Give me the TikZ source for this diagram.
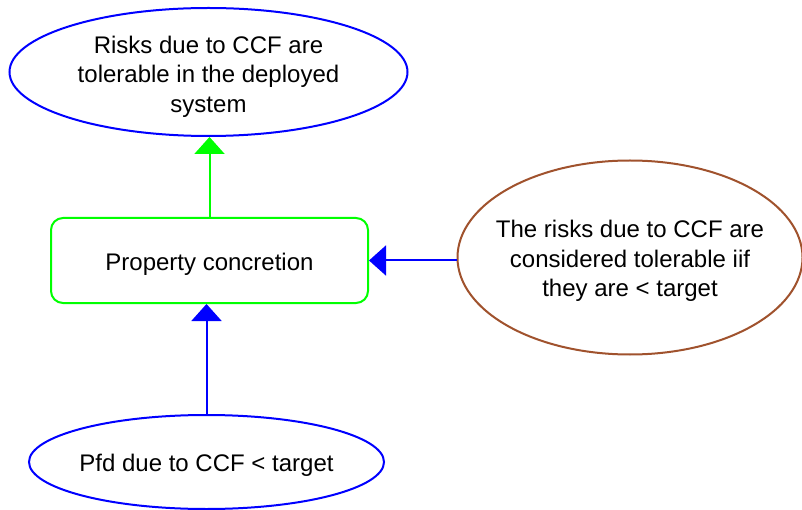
\documentclass[tikz,border=0pt]{standalone}
\usepackage{fontspec}
\setmainfont{Liberation Sans}
\usetikzlibrary{shapes.geometric,arrows.meta}
\definecolor{goalblue}{RGB}{0,0,255}
\definecolor{stratgreen}{RGB}{0,255,0}
\definecolor{ctxbrown}{RGB}{160,82,45}
\begin{document}
\begin{tikzpicture}[x=1pt,y=-1pt,
  caption/.style={font=\fontsize{24}{29.5}\selectfont, align=center, text=black, inner sep=0pt, yshift=-3.5pt},
  goal/.style={ellipse, draw=goalblue, line width=2pt, inner sep=0pt},
  context/.style={ellipse, draw=ctxbrown, line width=2pt, inner sep=0pt},
  strategy/.style={rectangle, rounded corners=12pt, draw=stratgreen, line width=2pt, inner sep=0pt},
  support/.style={line width=2pt, -{Triangle[length=17pt,width=30pt]}}
]
\useasboundingbox (0,0) rectangle (802,510);
\fill[white] (0,0) rectangle (802,510);

% goal, strategy, context and solution shapes, each with its centred caption
\node[goal, minimum width=398pt, minimum height=128pt,
  label={[caption, yshift=-1pt]center:{Risks due to CCF are\\tolerable in the deployed\\system}}]
  (top) at (208.5,72) {};
\node[strategy, minimum width=317pt, minimum height=85pt,
  label={[caption]center:{Property concretion}}]
  (strat) at (209.5,260.5) {};
\node[context, minimum width=345pt, minimum height=194pt,
  label={[caption]center:{The risks due to CCF are\\considered tolerable iif\\they are < target}}]
  (ctx) at (630,257.5) {};
\node[goal, minimum width=355pt, minimum height=94pt,
  label={[caption]center:{Pfd due to CCF < target}}]
  (sol) at (206.5,462) {};

% support links
\draw[support, draw=stratgreen, fill=stratgreen] (strat.north) -- (strat.north |- top.south);
\draw[support, draw=goalblue, fill=goalblue] (ctx.west |- strat.east) -- (strat.east);
\draw[support, draw=goalblue, fill=goalblue] (sol.north) -- (sol.north |- strat.south);
\end{tikzpicture}
\end{document}
